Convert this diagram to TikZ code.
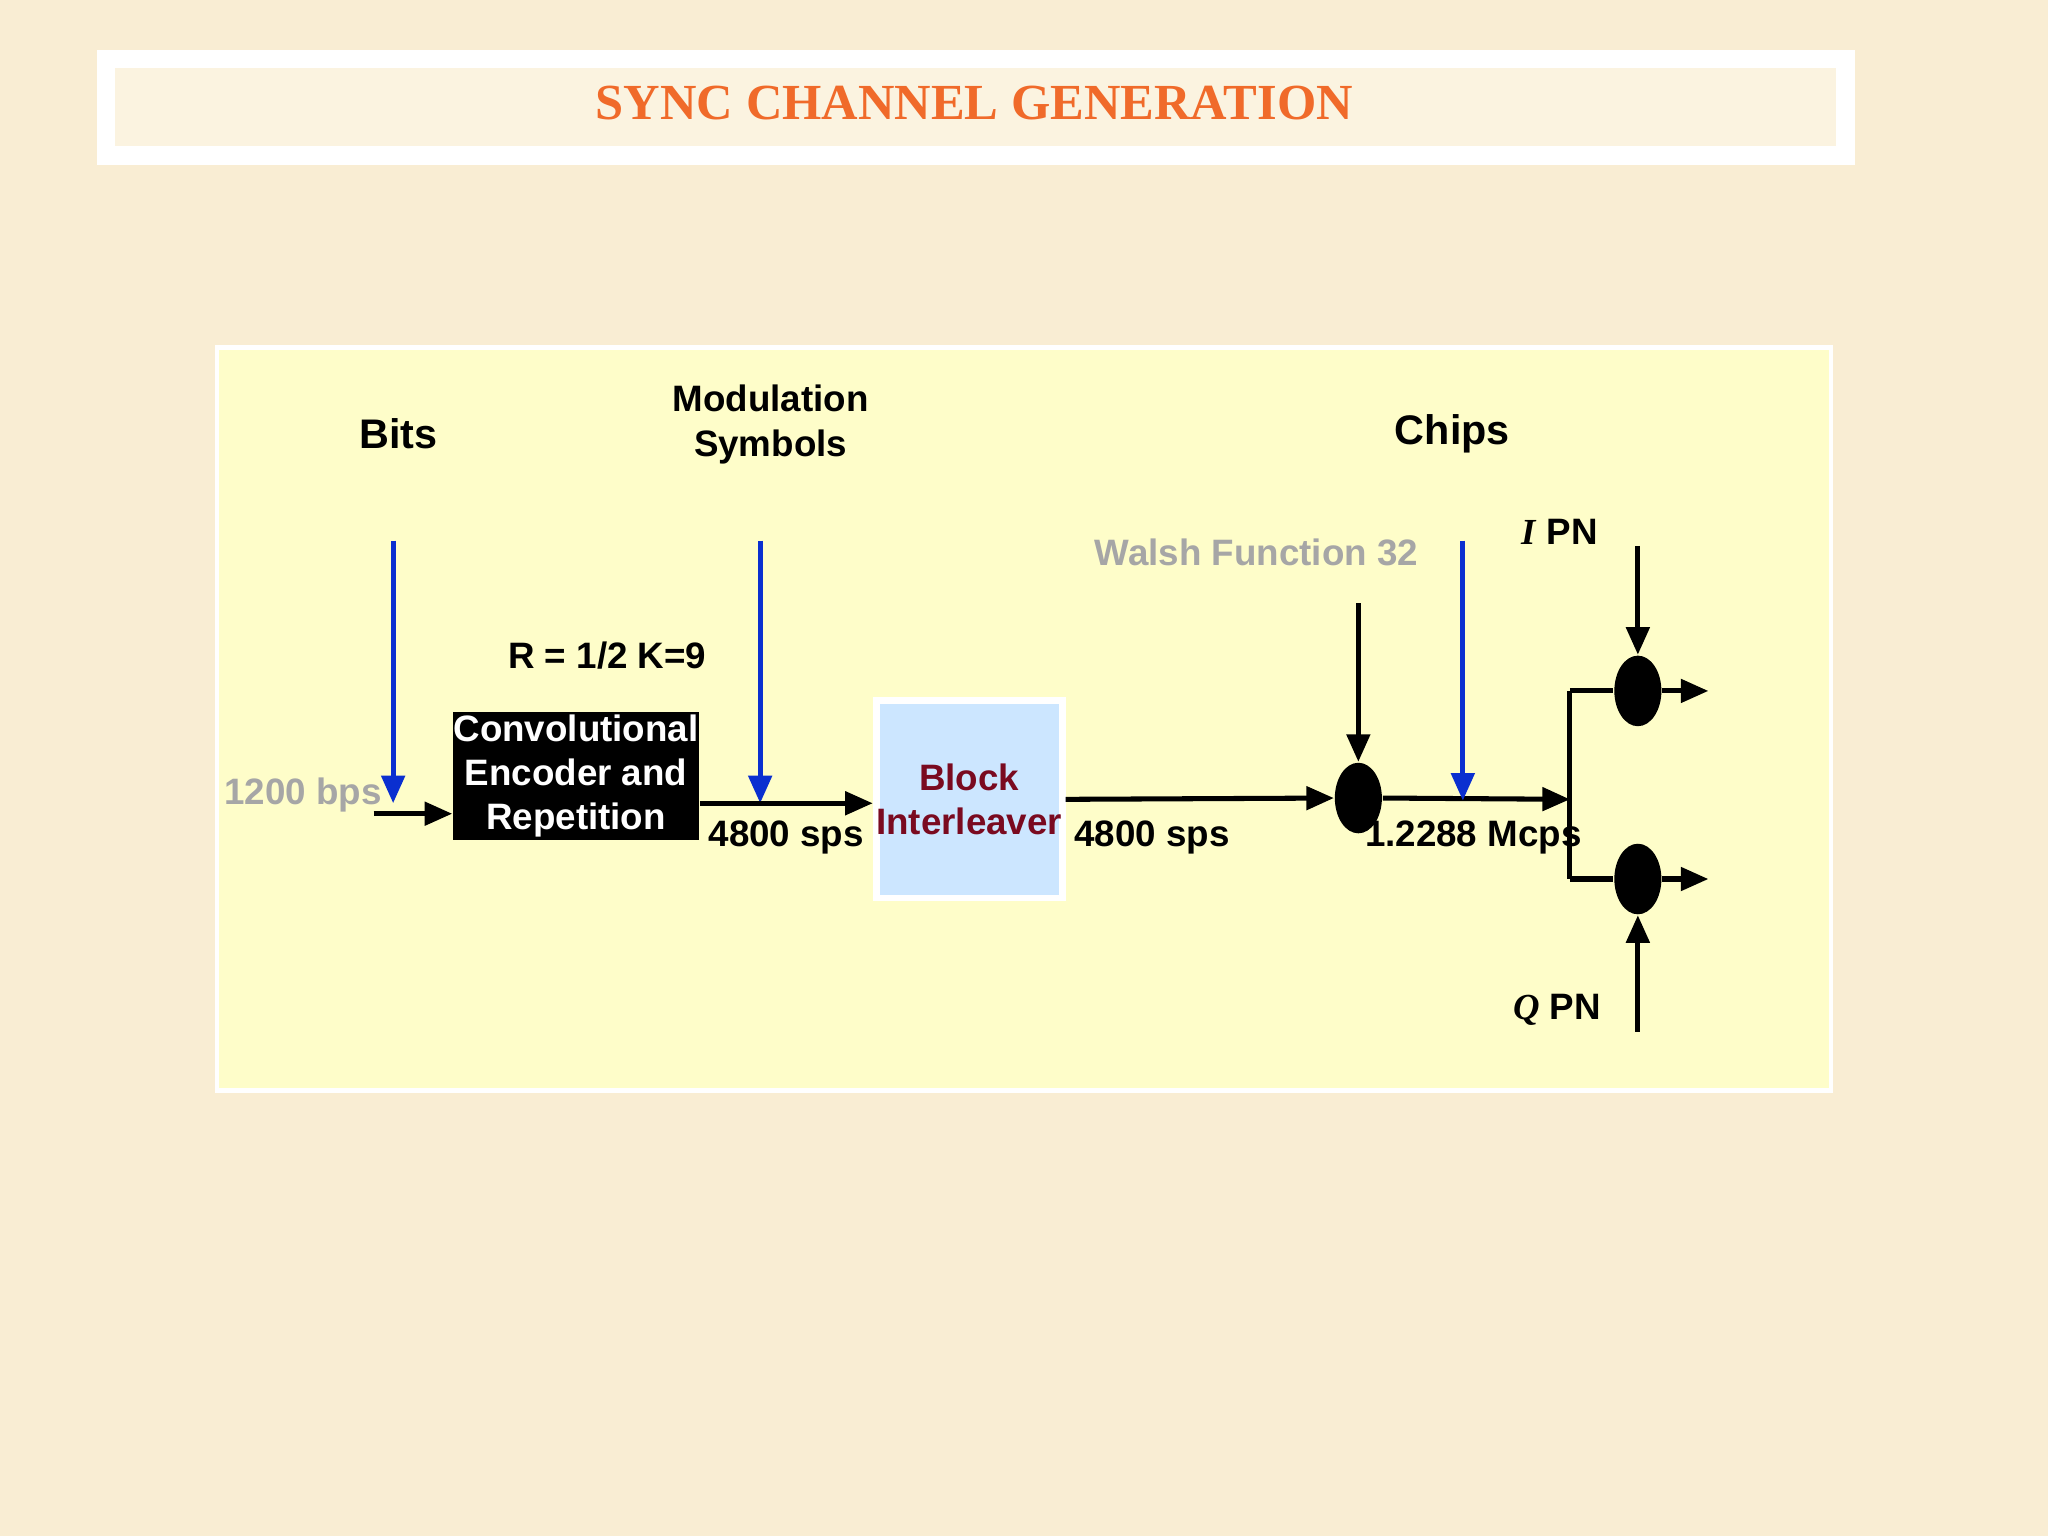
\documentclass[tikz,border=0pt]{standalone}
\usepackage{fontspec}
\setmainfont{Liberation Serif}
\setsansfont{Liberation Sans}
\usetikzlibrary{arrows.meta}
\definecolor{bg}{HTML}{F9EDD3}
\definecolor{panel}{HTML}{FEFDC9}
\definecolor{ttl}{HTML}{F06A2A}
\definecolor{blk}{HTML}{CCE6FF}
\definecolor{dred}{HTML}{7A0A20}
\definecolor{blu}{HTML}{0A2FD0}
\tikzset{
 lab/.style={font=\sffamily\bfseries\fontsize{8}{9.6}\selectfont,align=center},
 glab/.style={lab,text=gray!70},
 ar/.style={line width=1.1pt,-{Triangle[length=6pt,width=5pt]}},
 bar/.style={ar,blu},
 mix/.style={ellipse,fill=black,minimum width=0.36cm,minimum height=0.54cm,inner sep=0pt},
}
\usetikzlibrary{shapes.geometric}
\begin{document}
\begin{tikzpicture}[x=0.01cm,y=-0.01cm]
\fill[bg] (0,0) rectangle (1568,1176);
\useasboundingbox (0,0) rectangle (1568,1176);
\fill[white] (74,38) rectangle (1420,126);
\fill[bg!70!white] (88,52) rectangle (1406,112);
\node[text=ttl,font=\bfseries\fontsize{11}{13}\selectfont] (title) at (746,79) {SYNC CHANNEL GENERATION};
\draw[white,line width=1pt,fill=panel] (166,266) rectangle (1402,835);
\node[lab,font=\sffamily\bfseries\fontsize{9}{10}\selectfont] (bits) at (305,332) {Bits};
\node[lab] (mod) at (590,325) {Modulation\\Symbols};
\node[lab,font=\sffamily\bfseries\fontsize{9}{10}\selectfont] (chips) at (1112,332) {Chips};
\node[lab] (rk) at (465,502) {R = 1/2 K=9};
\node[glab] (bps) at (232,609) {1200 bps};
\node[lab,fill=black,text=white,minimum width=1.88cm,minimum height=0.98cm,inner sep=0pt] (conv) at (441,594) {Convolutional\\Encoder and\\Repetition};
\node[lab,text=dred,fill=blk,draw=white,line width=1.5pt,minimum width=1.29cm,minimum height=1.51cm,inner sep=0pt] (bi) at (742,612) {Block\\Interleaver};
\node[lab] (s1) at (602,641) {4800 sps};
\node[lab] (s2) at (882,641) {4800 sps};
\node[lab] (mc) at (1128,641) {1.2288 Mcps};
\node[glab] (wf) at (962,423) {Walsh Function 32};
\node[lab] (ipn) at (1194,407) {\textit{\rmfamily I} PN};
\node[lab] (qpn) at (1192,773) {\textit{\rmfamily Q} PN};
\node[mix] (m1) at (1040,611) {};
\node[mix] (m2) at (1254,529) {};
\node[mix] (m3) at (1254,673) {};
\coordinate (b1) at (301,414); \coordinate (b1e) at (301,615);
\coordinate (b2) at (582,414); \coordinate (b2e) at (582,615);
\coordinate (b3) at (1120,414); \coordinate (b3e) at (1120,613);
\draw[bar] (b1) -- (b1e);
\draw[bar] (b2) -- (b2e);
\draw[ar] (286,623) -- (conv.west|-0,623);
\draw[ar] (conv.east|-0,615) -- (bi.west|-0,615);
\draw[ar] (bi.east|-0,612) -- (m1.west);
\coordinate (w) at (1040,462);
\draw[ar] (w) -- (m1.north);
\coordinate (sp) at (1202,612);
\draw[ar] (m1.east) -- (sp);
\draw[bar] (b3) -- (b3e);
\draw[line width=1.1pt] (1202,529) -- (1202,673);
\draw[line width=1.1pt] (1202,529) -- (m2.west);
\draw[line width=1.1pt] (1202,673) -- (m3.west);
\coordinate (o1) at (1308,529); \coordinate (o2) at (1308,673);
\draw[ar] (m2.east) -- (o1);
\draw[ar] (m3.east) -- (o2);
\coordinate (ip) at (1254,418); \coordinate (qp) at (1254,790);
\draw[ar] (ip) -- (m2.north);
\draw[ar] (qp) -- (m3.south);
\end{tikzpicture}
\end{document}
